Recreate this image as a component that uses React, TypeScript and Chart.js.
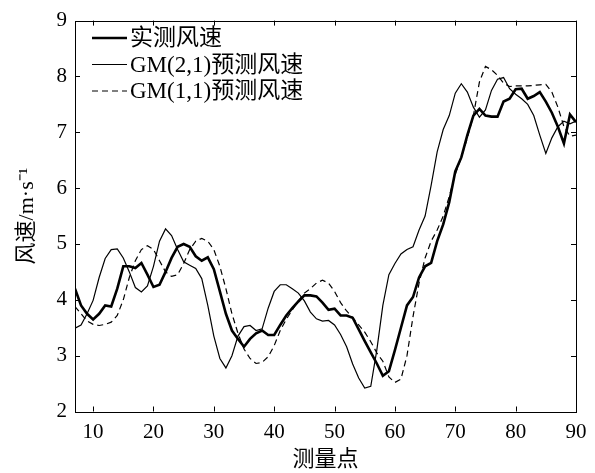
import React, { useEffect, useRef } from "react";
import { Chart, registerables } from "chart.js";

Chart.register(...registerables);

const FONT = '"Liberation Serif", "Times New Roman", "Noto Sans CJK SC", serif';

const xPoints = [
  7, 8, 9, 10, 11, 12, 13, 14, 15, 16, 17, 18, 19, 20, 21, 22, 23, 24, 25, 26, 27, 28,
  29, 30, 31, 32, 33, 34, 35, 36, 37, 38, 39, 40, 41, 42, 43, 44, 45, 46, 47, 48, 49,
  50, 51, 52, 53, 54, 55, 56, 57, 58, 59, 60, 61, 62, 63, 64, 65, 66, 67, 68, 69, 70,
  71, 72, 73, 74, 75, 76, 77, 78, 79, 80, 81, 82, 83, 84, 85, 86, 87, 88, 89, 90,
];

const actual = [
  4.2, 3.9, 3.75, 3.65, 3.75, 3.9, 3.88, 4.2, 4.6, 4.6, 4.57, 4.66, 4.45, 4.23, 4.27, 4.5,
  4.75, 4.95, 5.0, 4.95, 4.78, 4.7, 4.76, 4.55, 4.15, 3.75, 3.45, 3.3, 3.16, 3.3, 3.4,
  3.45, 3.37, 3.37, 3.55, 3.72, 3.85, 3.97, 4.08, 4.08, 4.06, 3.95, 3.82, 3.84, 3.72,
  3.72, 3.68, 3.47, 3.26, 3.06, 2.86, 2.64, 2.72, 3.1, 3.5, 3.9, 4.05, 4.4, 4.6, 4.66,
  5.05, 5.35, 5.75, 6.3, 6.55, 6.95, 7.3, 7.42, 7.3, 7.28, 7.28, 7.55, 7.6, 7.77, 7.78,
  7.6, 7.65, 7.72, 7.55, 7.35, 7.1, 6.8, 7.32, 7.18,
];

const gm21 = [
  3.49, 3.55, 3.75, 3.99, 4.4, 4.74, 4.9, 4.91, 4.75, 4.5, 4.22, 4.14, 4.25, 4.6, 5.05,
  5.27, 5.15, 4.9, 4.68, 4.62, 4.56, 4.38, 3.9, 3.35, 2.95, 2.78, 3.0, 3.35, 3.52, 3.54,
  3.45, 3.48, 3.85, 4.15, 4.27, 4.27, 4.2, 4.12, 3.98, 3.78, 3.66, 3.62, 3.63, 3.55,
  3.38, 3.16, 2.85, 2.6, 2.42, 2.45, 3.1, 3.9, 4.45, 4.65, 4.82, 4.9, 4.95, 5.25, 5.5,
  6.05, 6.65, 7.05, 7.3, 7.7, 7.87, 7.72, 7.45, 7.27, 7.4, 7.75, 7.95, 7.98, 7.78, 7.68,
  7.6, 7.5, 7.3, 6.95, 6.62, 6.9, 7.1, 7.2, 7.15, 7.2,
];

const gm11 = [
  3.88, 3.75, 3.62, 3.56, 3.54, 3.56, 3.6, 3.72, 4.0, 4.4, 4.7, 4.9, 4.97, 4.9, 4.7, 4.5,
  4.42, 4.45, 4.65, 4.9, 5.05, 5.1, 5.05, 4.9, 4.6, 4.2, 3.75, 3.4, 3.12, 2.95, 2.86,
  2.88, 2.98, 3.18, 3.45, 3.65, 3.82, 3.98, 4.12, 4.2, 4.3, 4.35, 4.3, 4.15, 3.95, 3.8,
  3.68, 3.55, 3.42, 3.25, 3.05, 2.9, 2.62, 2.52, 2.58, 3.0, 3.7, 4.3, 4.75, 5.05, 5.25,
  5.5, 5.85, 6.25, 6.55, 6.9, 7.3, 7.9, 8.18, 8.12, 8.02, 7.88, 7.82, 7.83, 7.83, 7.83,
  7.84, 7.85, 7.86, 7.72, 7.45, 7.1, 6.93, 6.95,
];

const seriesNames = ["实测风速", "GM(2,1)预测风速", "GM(1,1)预测风速"];
const xTicks = [10, 20, 30, 40, 50, 60, 70, 80, 90];
const yTicks = [2, 3, 4, 5, 6, 7, 8, 9];
const xTitle = "测量点";
const yTitle = "风速/m·s⁻¹";

export default function App() {
  const ref = useRef<HTMLCanvasElement>(null);

  useEffect(() => {
    const canvas = ref.current;
    if (!canvas) return;
    const pts = (ys: number[]) => xPoints.map((x, i) => ({ x, y: ys[i] }));

    const frame = {
      id: "frameTicksLegend",
      afterDraw(chart: any) {
        const { ctx, chartArea } = chart;
        const { left, right, top, bottom } = chartArea;
        const xs = chart.scales.x;
        const ys = chart.scales.y;
        ctx.save();
        ctx.strokeStyle = "#000";
        ctx.lineWidth = 1;
        ctx.setLineDash([]);
        ctx.strokeRect(Math.round(left) + 0.5, Math.round(top) + 0.5, Math.round(right - left), Math.round(bottom - top));
        const tl = 5;
        ctx.beginPath();
        xTicks.forEach((v) => {
          const px = Math.round(xs.getPixelForValue(v)) + 0.5;
          ctx.moveTo(px, bottom);
          ctx.lineTo(px, bottom - tl);
          ctx.moveTo(px, top);
          ctx.lineTo(px, top + tl);
        });
        yTicks.forEach((v) => {
          const py = Math.round(ys.getPixelForValue(v)) + 0.5;
          ctx.moveTo(left, py);
          ctx.lineTo(left + tl, py);
          ctx.moveTo(right, py);
          ctx.lineTo(right - tl, py);
        });
        ctx.stroke();

        // legend
        const rowsY = [38, 64.5, 91];
        const x0 = left + 17;
        const x1 = left + 52;
        chart.data.datasets.forEach((ds: any, i: number) => {
          const y = rowsY[i];
          ctx.beginPath();
          ctx.strokeStyle = "#000";
          ctx.lineWidth = ds.borderWidth;
          ctx.setLineDash(ds.borderDash || []);
          ctx.moveTo(x0, y);
          ctx.lineTo(x1, y);
          ctx.stroke();
          ctx.setLineDash([]);
          ctx.fillStyle = "#000";
          ctx.font = `23px ${FONT}`;
          ctx.textBaseline = "middle";
          ctx.textAlign = "left";
          ctx.fillText(ds.label, x1 + 3, y + 1);
        });
        ctx.restore();
      },
    };

    const chart = new Chart(canvas, {
      type: "line",
      data: {
        datasets: [
          { label: seriesNames[0], data: pts(actual), borderColor: "#000", borderWidth: 2.6, pointRadius: 0, tension: 0, fill: false },
          { label: seriesNames[1], data: pts(gm21), borderColor: "#000", borderWidth: 1.2, pointRadius: 0, tension: 0, fill: false },
          { label: seriesNames[2], data: pts(gm11), borderColor: "#000", borderWidth: 1.2, borderDash: [6, 4], pointRadius: 0, tension: 0, fill: false },
        ],
      },
      options: {
        responsive: false,
        animation: false,
        devicePixelRatio: 1,
        layout: { padding: { top: 19, right: 19, left: 0, bottom: 0 } },
        plugins: { legend: { display: false }, tooltip: { enabled: false } },
        scales: {
          x: {
            type: "linear",
            min: 7,
            max: 90,
            afterBuildTicks: (s: any) => {
              s.ticks = xTicks.map((v) => ({ value: v }));
            },
            afterFit: (s: any) => {
              s.height = 61.5;
            },
            grid: { display: false, drawTicks: false },
            border: { display: false },
            ticks: { color: "#000", font: { family: FONT, size: 21 }, padding: 8, maxRotation: 0, autoSkip: false },
            title: { display: true, text: xTitle, color: "#000", font: { family: FONT, size: 22 }, padding: { top: 0, bottom: 0 } },
          },
          y: {
            type: "linear",
            min: 2,
            max: 9,
            afterBuildTicks: (s: any) => {
              s.ticks = yTicks.map((v) => ({ value: v }));
            },
            afterFit: (s: any) => {
              s.width = 75;
            },
            grid: { display: false, drawTicks: false },
            border: { display: false },
            ticks: { color: "#000", font: { family: FONT, size: 21 }, padding: 8 },
            title: { display: true, text: yTitle, color: "#000", font: { family: FONT, size: 22 }, padding: { top: 14, bottom: 0 } },
          },
        },
      },
      plugins: [frame],
    });
    return () => chart.destroy();
  }, []);

  return (
    <div style={{ position: "fixed", left: 0, top: 0, width: 595, height: 473, background: "#fff" }}>
      <canvas ref={ref} width={595} height={473} style={{ display: "block" }} />
    </div>
  );
}
